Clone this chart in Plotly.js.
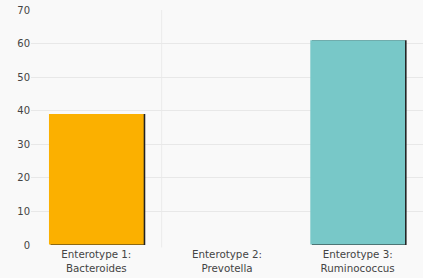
<!DOCTYPE html>
<html>
<head>
<meta charset="utf-8">
<script src="https://cdn.plot.ly/plotly-3.0.1.min.js"></script>
<style>html,body{margin:0;padding:0;background:#f9f9f9;}#chart{width:423px;height:278px;}</style>
</head>
<body>
<div id="chart"></div>
<script>
var categories = ["Enterotype 1:<br>Bacteroides", "Enterotype 2:<br>Prevotella", "Enterotype 3:<br>Ruminococcus"];
var values = [39, null, 61];
var colors = ["#fbb000", "#fbb000", "#78c8c8"];
var yTicks = [0, 10, 20, 30, 40, 50, 60, 70];

var barW = 0.725;
var shadow = {
  type: "bar", x: categories, y: values,
  width: barW, offset: -barW / 2 + 0.012,
  marker: {color: "#222", line: {width: 0}},
  hoverinfo: "skip", cliponaxis: false
};
var main = {
  type: "bar", x: categories, y: values.map(function (v) { return v === null ? null : v - 0.12; }),
  base: [0.12, 0.12, 0.12],
  width: barW, offset: -barW / 2,
  marker: {color: colors, line: {width: 0}},
  cliponaxis: false
};
var layout = {
  width: 423, height: 278,
  margin: {l: 31, r: 0, t: 10, b: 33},
  paper_bgcolor: "#f9f9f9", plot_bgcolor: "#f9f9f9",
  showlegend: false, barmode: "overlay",
  font: {family: "DejaVu Sans", size: 10, color: "#444"},
  xaxis: {type: "category", range: [-0.5, 2.5], showgrid: false, zeroline: false,
          ticks: "", tickfont: {size: 10.3, color: "#444"}, ticklabelstandoff: 2},
  yaxis: {range: [0, 70], tickvals: yTicks, showgrid: true, gridcolor: "#e8e8e8", gridwidth: 1,
          zeroline: false, ticks: "", tickfont: {size: 10, color: "#444"}},
  shapes: [{type: "line", xref: "x", yref: "paper", x0: 0.5, x1: 0.5, y0: -0.01, y1: 1,
            line: {color: "#ebebeb", width: 1}, layer: "below"}]
};
Plotly.newPlot("chart", [shadow, main], layout, {staticPlot: true, displayModeBar: false});
</script>
</body>
</html>
